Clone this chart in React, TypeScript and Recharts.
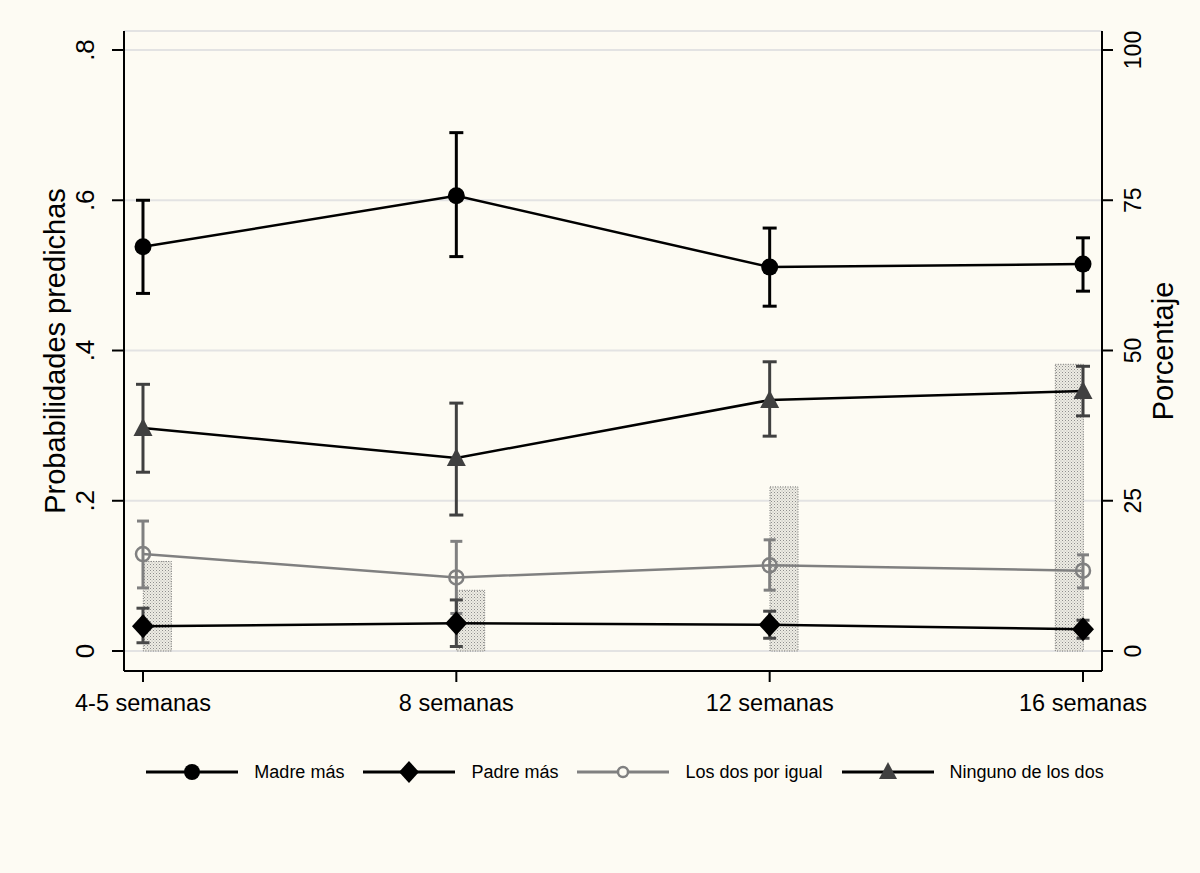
import React from "react"
import { ComposedChart, Line, Bar, XAxis, YAxis, CartesianGrid, ErrorBar, Legend } from "recharts"

const weeks = ["4-5 semanas", "8 semanas", "12 semanas", "16 semanas"]

// predicted probabilities and 95% CI bounds
const madre = [0.538, 0.606, 0.511, 0.515]
const madreLo = [0.476, 0.525, 0.459, 0.479]
const madreHi = [0.6, 0.69, 0.563, 0.55]

const padre = [0.033, 0.037, 0.035, 0.029]
const padreLo = [0.011, 0.006, 0.017, 0.017]
const padreHi = [0.057, 0.068, 0.053, 0.041]

const ambos = [0.129, 0.098, 0.114, 0.107]
const ambosLo = [0.084, 0.05, 0.081, 0.084]
const ambosHi = [0.173, 0.146, 0.148, 0.128]

const ninguno = [0.297, 0.257, 0.334, 0.346]
const ningunoLo = [0.238, 0.181, 0.286, 0.313]
const ningunoHi = [0.355, 0.33, 0.385, 0.379]

// share of the sample at each wave (right axis)
const porcentaje = [14.9, 10.1, 27.3, 47.7]

const probTicks = [0, 0.2, 0.4, 0.6, 0.8]
const pctTicks = [0, 25, 50, 75, 100]
const legendNames = ["Madre más", "Padre más", "Los dos por igual", "Ninguno de los dos"]

const err = (v: number[], lo: number[], hi: number[], i: number) => [v[i] - lo[i], hi[i] - v[i]]

const data = weeks.map((week, i) => ({
  pos: i,
  week,
  madre: madre[i],
  madreErr: err(madre, madreLo, madreHi, i),
  padre: padre[i],
  padreErr: err(padre, padreLo, padreHi, i),
  ambos: ambos[i],
  ambosErr: err(ambos, ambosLo, ambosHi, i),
  ninguno: ninguno[i],
  ningunoErr: err(ninguno, ningunoLo, ningunoHi, i),
  porcentaje: porcentaje[i],
}))

const BG = "#FDFBF3"
const FONT = '"Liberation Sans", Arial, Helvetica, sans-serif'

const fmtProb = (v: number) => (v === 0 ? "0" : String(v).replace(/^0/, ""))

function LeftTick(props: any) {
  const { x, y, payload } = props
  const cx = x - 27
  return (
    <text x={cx} y={y} transform={`rotate(-90, ${cx}, ${y})`} textAnchor="middle" dominantBaseline="central" fontSize={26} fill="#000">
      {fmtProb(payload.value)}
    </text>
  )
}

function RightTick(props: any) {
  const { x, y, payload } = props
  const cx = x + 20
  return (
    <text x={cx} y={y} transform={`rotate(-90, ${cx}, ${y})`} textAnchor="middle" dominantBaseline="central" fontSize={23} fill="#000">
      {payload.value}
    </text>
  )
}

function AxisTitle(props: any) {
  const { viewBox, text, dx } = props
  const cx = viewBox.x + dx
  const cy = viewBox.y + viewBox.height / 2
  return (
    <text x={cx} y={cy} transform={`rotate(-90, ${cx}, ${cy})`} textAnchor="middle" dominantBaseline="central" fontSize={29} fill="#000">
      {text}
    </text>
  )
}

function StippleBar(props: any) {
  const { x, y, width, height, index } = props
  if (!height || height <= 0) return <g />
  // bars sit beside the marker: to the right, the last one to the left
  const shift = index === porcentaje.length - 1 ? -width / 2 : width / 2
  return (
    <rect
      x={x + shift}
      y={y}
      width={width}
      height={height}
      fill="url(#stipple)"
      stroke="#707070"
      strokeWidth={1}
      strokeDasharray="1 1.5"
    />
  )
}

const circleDot = (p: any) => <circle key={`mc${p.index}`} cx={p.cx} cy={p.cy} r={8.5} fill="#000" />
const diamondDot = (p: any) => (
  <polygon
    key={`pd${p.index}`}
    points={`${p.cx},${p.cy - 12} ${p.cx + 11},${p.cy} ${p.cx},${p.cy + 12} ${p.cx - 11},${p.cy}`}
    fill="#000"
  />
)
const hollowDot = (p: any) => <circle key={`ah${p.index}`} cx={p.cx} cy={p.cy} r={7} fill="none" stroke="#808080" strokeWidth={2.5} />
const triangleDot = (p: any) => (
  <polygon
    key={`nt${p.index}`}
    points={`${p.cx},${p.cy - 10} ${p.cx + 9.5},${p.cy + 8} ${p.cx - 9.5},${p.cy + 8}`}
    fill="#404040"
  />
)

function LegendSymbol({ i }: { i: number }) {
  const lineColor = i === 2 ? "#808080" : "#000"
  return (
    <svg width={92} height={26} style={{ display: "block" }}>
      <line x1={0} y1={13} x2={92} y2={13} stroke={lineColor} strokeWidth={3} />
      {i === 0 && <circle cx={46} cy={13} r={8} fill="#000" />}
      {i === 1 && <polygon points="46,2 56,13 46,24 36,13" fill="#000" />}
      {i === 2 && <circle cx={46} cy={13} r={5} fill={BG} stroke="#808080" strokeWidth={2.5} />}
      {i === 3 && <polygon points="46,3 55,20 37,20" fill="#404040" />}
    </svg>
  )
}

const renderLegend = () => (
  <div style={{ display: "flex", justifyContent: "center", alignItems: "center", fontFamily: FONT }}>
    {legendNames.map((name, i) => (
      <div key={name} style={{ display: "flex", alignItems: "center", marginRight: i < legendNames.length - 1 ? 19 : 0 }}>
        <LegendSymbol i={i} />
        <span style={{ marginLeft: 16, fontSize: 18, color: "#000", whiteSpace: "nowrap" }}>{name}</span>
      </div>
    ))}
  </div>
)

export default function App() {
  const axisStroke = { stroke: "#000", strokeWidth: 2 }
  return (
    <div style={{ position: "absolute", left: 0, top: 0, width: 1200, height: 873, background: BG, fontFamily: FONT }}>
      <ComposedChart width={1200} height={873} data={data} margin={{ top: 31, right: 0, bottom: 0, left: 0 }}>
        <defs>
          <pattern id="stipple" width="3" height="3" patternUnits="userSpaceOnUse">
            <rect width="3" height="3" fill="#EEECE3" />
            <rect x="0" y="0" width="1" height="1" fill="#8E8E8E" />
            <rect x="1.5" y="1.5" width="1" height="1" fill="#B0B0B0" />
          </pattern>
        </defs>
        <CartesianGrid vertical={false} yAxisId="left" stroke="#E3E3E3" strokeWidth={2} />
        <XAxis
          type="number"
          dataKey="pos"
          domain={[-0.0606, 3.0606]}
          ticks={[0, 1, 2, 3]}
          tickFormatter={(v: number) => weeks[v]}
          height={202}
          tickSize={11}
          tickMargin={12}
          axisLine={axisStroke}
          tickLine={axisStroke}
          tick={{ fontSize: 23.5, fill: "#000" }}
          interval={0}
        />
        <YAxis
          yAxisId="left"
          orientation="left"
          width={124}
          domain={[-0.0266, 0.8253]}
          ticks={probTicks}
          tickSize={12}
          tickMargin={0}
          axisLine={axisStroke}
          tickLine={axisStroke}
          tick={<LeftTick />}
          interval={0}
          label={<AxisTitle text="Probabilidades predichas" dx={55} />}
        />
        <YAxis
          yAxisId="right"
          orientation="right"
          width={98}
          domain={[-3.33, 103.16]}
          ticks={pctTicks}
          tickSize={11}
          tickMargin={0}
          axisLine={axisStroke}
          tickLine={axisStroke}
          tick={<RightTick />}
          interval={0}
          label={<AxisTitle text="Porcentaje" dx={61} />}
        />
        <Bar yAxisId="right" dataKey="porcentaje" barSize={28} shape={<StippleBar />} isAnimationActive={false} legendType="none" />
        <Line yAxisId="left" dataKey="ambos" stroke="#808080" strokeWidth={2.5} dot={hollowDot} activeDot={false} isAnimationActive={false}>
          <ErrorBar dataKey="ambosErr" direction="y" width={6} stroke="#808080" strokeWidth={3} isAnimationActive={false} />
        </Line>
        <Line yAxisId="left" dataKey="ninguno" stroke="#000" strokeWidth={2.5} dot={triangleDot} activeDot={false} isAnimationActive={false}>
          <ErrorBar dataKey="ningunoErr" direction="y" width={7} stroke="#404040" strokeWidth={3} isAnimationActive={false} />
        </Line>
        <Line yAxisId="left" dataKey="padre" stroke="#000" strokeWidth={2.5} dot={diamondDot} activeDot={false} isAnimationActive={false}>
          <ErrorBar dataKey="padreErr" direction="y" width={6.5} stroke="#484848" strokeWidth={3} isAnimationActive={false} />
        </Line>
        <Line yAxisId="left" dataKey="madre" stroke="#000" strokeWidth={2.5} dot={circleDot} activeDot={false} isAnimationActive={false}>
          <ErrorBar dataKey="madreErr" direction="y" width={7} stroke="#000" strokeWidth={3} isAnimationActive={false} />
        </Line>
        <Legend layout="horizontal" verticalAlign="middle" align="center" width={978} wrapperStyle={{ left: 136, top: 759 }} content={renderLegend} />
      </ComposedChart>
    </div>
  )
}
